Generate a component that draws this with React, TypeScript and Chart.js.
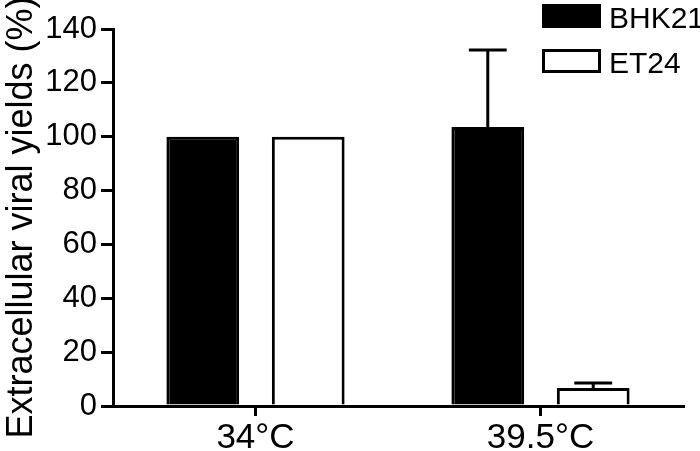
import React, { useEffect, useRef } from "react";
import { Chart, registerables } from "chart.js";

Chart.register(...registerables);

const categories = ["34°C", "39.5°C"];
const bhk21Values = [100, 103.6];
const bhk21Errors = [0, 28.6];
const et24Values = [100, 6.7];
const et24Errors = [0, 1.8];
const seriesNames = ["BHK21", "ET24"];
const yTitle = "Extracellular viral yields (%)";

const FONT = "Arial, 'Liberation Sans', sans-serif";

const errorBarPlugin = {
  id: "errorBars",
  afterDatasetsDraw(chart: any) {
    const ctx = chart.ctx;
    const yScale = chart.scales.y;
    chart.data.datasets.forEach((ds: any, di: number) => {
      const meta = chart.getDatasetMeta(di);
      const errs: number[] = ds.errors || [];
      meta.data.forEach((bar: any, i: number) => {
        const e = errs[i];
        if (!e) return;
        const v = ds.data[i];
        const yTop = yScale.getPixelForValue(v + e);
        const yBar = yScale.getPixelForValue(v);
        const x = bar.x;
        const cap = bar.width * 0.52;
        ctx.save();
        ctx.strokeStyle = "#000";
        ctx.lineWidth = 3;
        ctx.beginPath();
        ctx.moveTo(x, yBar);
        ctx.lineTo(x, yTop);
        ctx.moveTo(x - cap / 2, yTop);
        ctx.lineTo(x + cap / 2, yTop);
        ctx.stroke();
        ctx.restore();
      });
    });
  },
};

const legendPlugin = {
  id: "customLegend",
  afterDraw(chart: any) {
    const ctx = chart.ctx;
    const items = [
      { label: seriesNames[0], fill: "#000", y: 4 },
      { label: seriesNames[1], fill: "#fff", y: 49 },
    ];
    ctx.save();
    items.forEach((it) => {
      const x = 542;
      const w = 59;
      const h = 24;
      if (it.fill === "#000") {
        ctx.fillStyle = "#000";
        ctx.fillRect(x, it.y, w, h);
      } else {
        ctx.fillStyle = "#fff";
        ctx.fillRect(x, it.y, w, h);
        ctx.strokeStyle = "#000";
        ctx.lineWidth = 3;
        ctx.strokeRect(x + 1.5, it.y + 1.5, w - 3, h - 3);
      }
      ctx.fillStyle = "#000";
      ctx.font = `30px ${FONT}`;
      ctx.textBaseline = "alphabetic";
      ctx.textAlign = "left";
      ctx.fillText(it.label, 609, it.y + 24);
    });
    ctx.restore();
  },
};

export default function App() {
  const canvasRef = useRef<HTMLCanvasElement | null>(null);

  useEffect(() => {
    document.body.style.margin = "0";
    const canvas = canvasRef.current;
    if (!canvas) return;
    const chart = new Chart(canvas, {
      type: "bar",
      data: {
        labels: categories,
        datasets: [
          {
            label: seriesNames[0],
            data: bhk21Values,
            errors: bhk21Errors,
            backgroundColor: "#000",
            borderColor: "#000",
            borderWidth: 3,
            categoryPercentage: 0.74,
            barPercentage: 0.69,
          } as any,
          {
            label: seriesNames[1],
            data: et24Values,
            errors: et24Errors,
            backgroundColor: "#fff",
            borderColor: "#000",
            borderWidth: 3,
            borderSkipped: "bottom",
            categoryPercentage: 0.74,
            barPercentage: 0.69,
          } as any,
        ],
      },
      options: {
        responsive: false,
        animation: false,
        devicePixelRatio: 1,
        layout: { padding: { top: 29, right: 17, left: 0, bottom: 0 } },
        plugins: {
          legend: { display: false },
          tooltip: { enabled: false },
        },
        scales: {
          x: {
            afterFit(scale: any) {
              scale.height = 45;
            },
            grid: {
              offset: false,
              drawOnChartArea: false,
              drawTicks: true,
              tickLength: 10,
              color: "#000",
              lineWidth: 3,
            },
            border: { color: "#000", width: 3 },
            ticks: {
              color: "#000",
              font: { family: FONT, size: 35 },
              padding: 1,
              maxRotation: 0,
            },
          },
          y: {
            min: 0,
            max: 140,
            afterFit(scale: any) {
              scale.width = 113;
            },
            grid: {
              drawOnChartArea: false,
              drawTicks: true,
              tickLength: 12,
              color: "#000",
              lineWidth: 3,
            },
            border: { color: "#000", width: 3 },
            ticks: {
              stepSize: 20,
              color: "#000",
              font: { family: FONT, size: 31 },
              padding: 4,
            },
            title: {
              display: true,
              text: yTitle,
              color: "#000",
              font: { family: FONT, size: 36 },
              padding: 0,
            },
          },
        },
      },
      plugins: [errorBarPlugin, legendPlugin],
    });
    return () => chart.destroy();
  }, []);

  return (
    <div style={{ width: 700, height: 451, background: "#fff" }}>
      <canvas ref={canvasRef} width={700} height={451} />
    </div>
  );
}
